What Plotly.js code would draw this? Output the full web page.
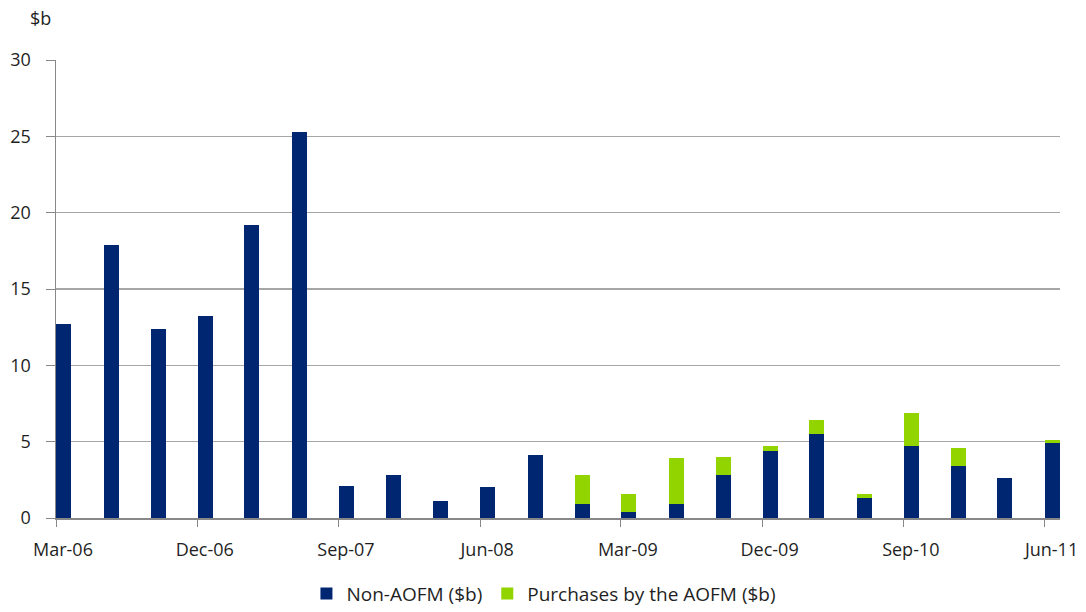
<!DOCTYPE html>
<html>
<head>
<meta charset="utf-8">
<script src="https://cdn.plot.ly/plotly-3.0.1.min.js"></script>
<style>html,body{margin:0;padding:0;background:#fff;}#chart{width:1086px;height:612px;}</style>
</head>
<body>
<div id="chart"></div>
<script>
// Quarter dates (bars sit mid-month, as in the source date axis)
const quarters = ['2006-03-16','2006-06-16','2006-09-16','2006-12-16','2007-03-16','2007-06-16',
  '2007-09-16','2007-12-16','2008-03-16','2008-06-16','2008-09-16','2008-12-16',
  '2009-03-16','2009-06-16','2009-09-16','2009-12-16','2010-03-16','2010-06-16',
  '2010-09-16','2010-12-16','2011-03-16','2011-06-16'];
const nonAOFM = [12.7,17.9,12.4,13.2,19.2,25.3,2.1,2.8,1.1,2.0,4.1,0.9,0.4,0.9,2.8,4.4,5.5,1.3,4.7,3.4,2.6,4.9];
const aofmPurchases = [0,0,0,0,0,0,0,0,0,0,0,1.9,1.2,3.0,1.2,0.3,0.9,0.3,2.2,1.2,0,0.2];
const tickDates = ['2006-03-01','2006-12-01','2007-09-01','2008-06-01','2009-03-01','2009-12-01','2010-09-01','2011-06-01'];
const tickLabels = ['Mar-06','Dec-06','Sep-07','Jun-08','Mar-09','Dec-09','Sep-10','Jun-11'];
const seriesNames = ['Non-AOFM ($b)','Purchases by the AOFM ($b)'];

const FONT = 'Open Sans, Liberation Sans, sans-serif';
const TXT = '#1f1f1f';
const barW = 29 * 86400000;

const traces = [
  {type:'bar', x: quarters, y: nonAOFM, name: seriesNames[0], width: barW,
   marker:{color:'#002672'}, hoverinfo:'x+y'},
  {type:'bar', x: quarters, y: aofmPurchases, name: seriesNames[1], width: barW,
   marker:{color:'#92d400'}, hoverinfo:'x+y'}
];

const layout = {
  width:1086, height:612,
  margin:{l:56, r:26, t:60, b:94},
  paper_bgcolor:'#fff', plot_bgcolor:'#fff',
  barmode:'stack',
  font:{family:FONT, size:18, color:TXT},
  showlegend:true,
  legend:{orientation:'h', x:0.486, xanchor:'center', xref:'paper',
          yref:'container', y:0.03, yanchor:'middle',
          traceorder:'normal', font:{family:FONT, size:19, color:TXT},
          itemwidth:30, tracegroupgap:0},
  xaxis:{type:'date', range:['2006-03-01','2011-07-01'],
         tickvals: tickDates, ticktext: tickLabels,
         ticks:'outside', ticklen:7, tickcolor:'#888', tickwidth:1,
         ticklabelshift:7, ticklabelstandoff:8,
         showline:true, linecolor:'#888', linewidth:1.5,
         showgrid:false, zeroline:false,
         tickfont:{family:FONT, size:18, color:TXT}},
  yaxis:{range:[0,30], tickvals:[0,5,10,15,20,25,30],
         ticks:'outside', ticklen:9, tickcolor:'#888', tickwidth:1,
         showline:true, linecolor:'#888', linewidth:1.5,
         showgrid:true, gridcolor:'#a6a6a6', gridwidth:1.5,
         zeroline:false, ticklabelstandoff:11,
         tickfont:{family:FONT, size:18, color:TXT}},
  annotations:[{text:'$b', xref:'paper', yref:'paper', x:-0.028, y:1.092,
                xanchor:'left', yanchor:'middle', showarrow:false,
                font:{family:FONT, size:18, color:TXT}}]
};

Plotly.newPlot('chart', traces, layout, {displayModeBar:false, staticPlot:true});
</script>
</body>
</html>
